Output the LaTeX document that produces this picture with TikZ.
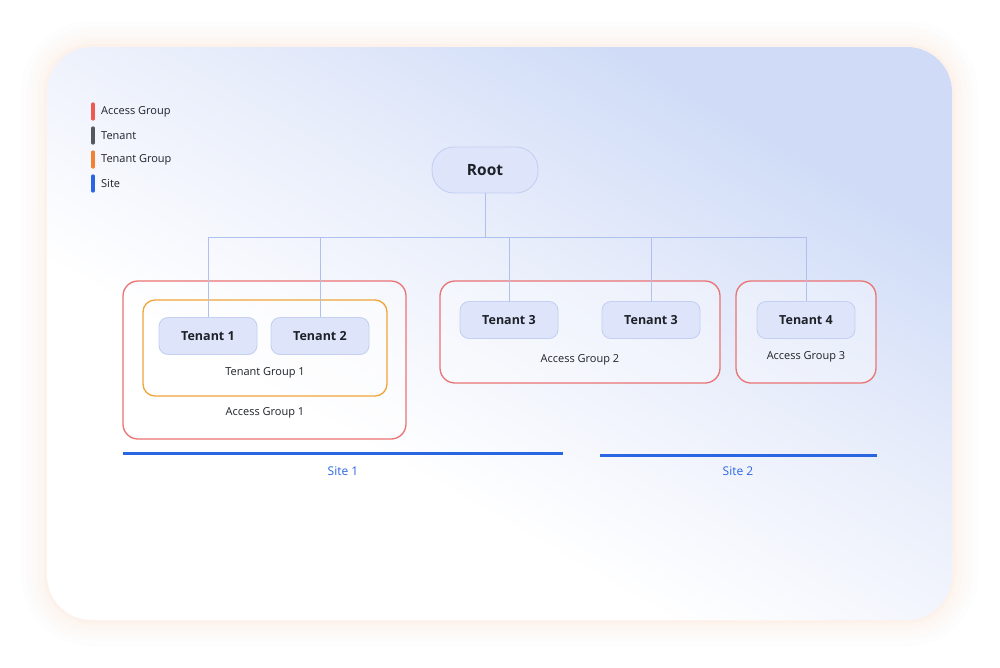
\documentclass[tikz,border=0pt]{standalone}
\usepackage{fontspec}
\setmainfont{Open Sans}
\usetikzlibrary{positioning}
\definecolor{agred}{HTML}{EB7373}
\definecolor{tgorange}{HTML}{F0A43A}
\definecolor{sitebl}{HTML}{2B66E2}
\definecolor{conn}{HTML}{AFC0EE}
\definecolor{tenfill}{HTML}{DEE5FA}
\definecolor{tenbord}{HTML}{C3D0F3}
\definecolor{txt}{HTML}{1E2128}
\definecolor{cardblue}{HTML}{D0DCF7}
\definecolor{cardmid}{HTML}{E9EEFB}
\definecolor{glow}{HTML}{FDE8DA}
\definecolor{legred}{HTML}{EE5A4F}
\definecolor{legorange}{HTML}{F08232}
\definecolor{leggray}{HTML}{55575F}
\pgfdeclareverticalshading{cardshade}{100bp}{color(0bp)=(white); color(38bp)=(white);
  color(56bp)=(cardmid); color(72bp)=(cardblue); color(100bp)=(cardblue)}
\tikzset{
  tenantbox/.style={draw=tenbord, line width=0.9pt, fill=tenfill, rounded corners=9pt,
     minimum width=98pt, minimum height=37pt, inner sep=0pt,
     font=\fontsize{12.5}{14}\selectfont\bfseries, text=txt},
  rootbox/.style={tenantbox, rounded corners=22pt, minimum width=106pt, minimum height=46pt,
     font=\fontsize{15.5}{17}\selectfont\bfseries},
  agbox/.style={draw=agred, line width=1.3pt, rounded corners=15pt, fill=white, fill opacity=0.35},
  tgbox/.style={draw=tgorange, line width=1.3pt, rounded corners=12pt, fill=white, fill opacity=0.45},
  grouplbl/.style={font=\fontsize{11}{12}\selectfont, text=txt, inner sep=0pt},
  sitelbl/.style={font=\fontsize{12}{13}\selectfont, text=sitebl, inner sep=0pt},
  siteline/.style={draw=sitebl, line width=3pt},
  connline/.style={draw=conn, line width=1pt},
  legbar/.style={line width=3.2pt, line cap=round},
  leglbl/.style={font=\fontsize{11}{12}\selectfont, text=txt, anchor=west, inner sep=0pt},
}
\begin{document}
\begin{tikzpicture}[x=1pt,y=-1pt]
\useasboundingbox (0,0) rectangle (1000,667);
\fill[white] (0,0) rectangle (1000,667);
% glow
\foreach \d/\o in {26/0.05,20/0.07,15/0.09,10/0.11,6/0.13,3/0.16}{
  \fill[glow, opacity=\o, rounded corners=45pt+\d pt] (47-\d,47-\d) rectangle (952+\d,620+\d);
}
% card
\shade[rounded corners=45pt, shading=cardshade, shading angle=-30]
  (47,47) rectangle (952,620);

% legend
\draw[legbar, color=legred] (93,104) -- (93,119);
\node[leglbl] (lag) at (101,112) {Access Group};
\draw[legbar, color=leggray] (93,128) -- (93,143);
\node[leglbl] (lten) at (101,136) {Tenant};
\draw[legbar, color=legorange] (93,152) -- (93,167);
\node[leglbl] (ltg) at (101,160) {Tenant Group};
\draw[legbar, color=sitebl] (93,176) -- (93,191);
\node[leglbl] (lsite) at (101,184) {Site};

% groups
\draw[agbox] (123,281) rectangle (406,439);
\draw[tgbox] (143,300) rectangle (387,396);
\draw[agbox] (440,281) rectangle (720,383);
\draw[agbox] (736,281) rectangle (876,383);

% nodes
\node[rootbox] (root) at (485,170) {Root};
\node[tenantbox] (t1) at (208,336) {Tenant 1};
\node[tenantbox] (t2) at (320,336) {Tenant 2};
\node[tenantbox] (t3) at (509,320) {Tenant 3};
\node[tenantbox] (t3b) at (651,320) {Tenant 3};
\node[tenantbox] (t4) at (806,320) {Tenant 4};

\node[grouplbl] (tg1) at (265,373) {Tenant Group 1};
\node[grouplbl] (ag1) at (265,413) {Access Group 1};
\node[grouplbl] (ag2) at (580,360) {Access Group 2};
\node[grouplbl] (ag3) at (806,357) {Access Group 3};

% connectors
\coordinate (bus) at (485,237);
\draw[connline] (root.south) -- (bus);
\draw[connline] (t1.north) |- (bus);
\draw[connline] (t2.north) |- (bus);
\draw[connline] (t3.north) |- (bus);
\draw[connline] (t3b.north) |- (bus);
\draw[connline] (t4.north) |- (bus);

% sites
\coordinate (s1a) at (123,453);
\coordinate (s1b) at (563,453);
\coordinate (s2a) at (600,455);
\coordinate (s2b) at (877,455);
\draw[siteline] (s1a) -- (s1b);
\draw[siteline] (s2a) -- (s2b);
\node[sitelbl] (site1) at (343,471) {Site 1};
\node[sitelbl] (site2) at (738,471) {Site 2};
\end{tikzpicture}
\end{document}
